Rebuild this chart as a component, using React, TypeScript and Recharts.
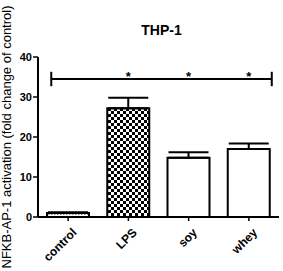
import React from "react";
import {
  BarChart,
  Bar,
  XAxis,
  YAxis,
  ErrorBar,
  Cell,
  ReferenceLine,
  ReferenceDot,
} from "recharts";

const groups = ["control", "LPS", "soy", "whey"];
const activation = [1, 27.2, 14.8, 17];
const errUp = [0.2, 2.6, 1.4, 1.4];
const yTicks = [0, 10, 20, 30, 40];

// significance bar (numeric x on a hidden 0..4 axis, y in data units)
const sigY = 34.5;
const sigFrom = 0.22;
const sigTo = 3.88;
const sigCap = 1.8;
const sigStars = ["LPS", "soy", "whey"];

const fills = ["url(#dots)", "url(#checker)", "#ffffff", "#ffffff"];

const data = groups.map((g, i) => ({ name: g, value: activation[i], err: [0, errUp[i]], pos: i + 0.5 }));

const font = "'Liberation Sans', Arial, sans-serif";

const XTick = (props: any) => {
  const { x, y, payload } = props;
  return (
    <text
      x={x + 3}
      y={y + 4}
      transform={`rotate(-45 ${x + 3} ${y + 4})`}
      textAnchor="end"
      dominantBaseline="hanging"
      fontSize={12}
      fontWeight="bold"
      fontFamily={font}
      fill="#000"
    >
      {payload.value}
    </text>
  );
};

const App: React.FC = () => {
  return (
    <div style={{ position: "absolute", left: 0, top: 0, width: 283, height: 271, background: "#fff", fontFamily: font }}>
      <svg width={0} height={0} style={{ position: "absolute" }}>
        <defs>
          <pattern id="checker" width={6} height={6} patternUnits="userSpaceOnUse">
            <rect width={6} height={6} fill="#fff" />
            <rect width={3} height={3} fill="#000" />
            <rect x={3} y={3} width={3} height={3} fill="#000" />
          </pattern>
          <pattern id="dots" width={3} height={3} patternUnits="userSpaceOnUse">
            <rect width={3} height={3} fill="#fff" />
            <rect width={1.5} height={1.5} fill="#000" />
          </pattern>
        </defs>
      </svg>
      <div
        style={{
          position: "absolute",
          left: 41,
          top: 22,
          width: 241,
          textAlign: "center",
          fontWeight: "bold",
          fontSize: 14,
        }}
      >
        THP-1
      </div>
      <BarChart
        width={283}
        height={271}
        data={data}
        margin={{ top: 57, right: 4, bottom: 0, left: 0 }}
        barCategoryGap={9}
      >
        <XAxis
          dataKey="name"
          height={54}
          axisLine={{ stroke: "#000", strokeWidth: 2 }}
          tickLine={{ stroke: "#000", strokeWidth: 1.5 }}
          tickSize={4}
          tick={<XTick />}
          interval={0}
        />
        <XAxis
          xAxisId="num"
          dataKey="pos"
          type="number"
          domain={[0, 4]}
          allowDataOverflow
          orientation="top"
          height={0}
          hide
        />
        <YAxis
          width={38}
          domain={[0, 40]}
          ticks={yTicks}
          axisLine={{ stroke: "#000", strokeWidth: 2 }}
          tickLine={{ stroke: "#000", strokeWidth: 1.5 }}
          tickSize={5}
          tickMargin={1}
          tick={{ fill: "#000", fontSize: 11, fontWeight: "bold", fontFamily: font }}
          label={{
            value: "NFKB-AP-1 activation (fold change of control)",
            angle: -90,
            position: "insideLeft",
            offset: 0,
            dx: 6,
            style: { textAnchor: "middle", fontSize: 13, fill: "#000", fontFamily: font },
          }}
        />
        <Bar dataKey="value" stroke="#000" strokeWidth={2} isAnimationActive={false}>
          {data.map((d, i) => (
            <Cell key={d.name} fill={fills[i]} />
          ))}
          <ErrorBar dataKey="err" direction="y" width={20} stroke="#000" strokeWidth={2} isAnimationActive={false} />
        </Bar>
        <ReferenceLine
          xAxisId="num"
          ifOverflow="visible"
          segment={[{ x: sigFrom, y: sigY }, { x: sigTo, y: sigY }]}
          stroke="#000"
          strokeWidth={2}
        />
        <ReferenceLine
          xAxisId="num"
          ifOverflow="visible"
          segment={[{ x: sigFrom, y: sigY - sigCap }, { x: sigFrom, y: sigY + sigCap }]}
          stroke="#000"
          strokeWidth={2}
        />
        <ReferenceLine
          xAxisId="num"
          ifOverflow="visible"
          segment={[{ x: sigTo, y: sigY - sigCap }, { x: sigTo, y: sigY + sigCap }]}
          stroke="#000"
          strokeWidth={2}
        />
        {sigStars.map((s) => (
          <ReferenceDot
            key={s}
            x={s}
            y={sigY}
            r={0}
            stroke="none"
            label={{ value: "*", position: "top", offset: -2, fill: "#000", fontSize: 13, fontWeight: "bold", fontFamily: font }}
          />
        ))}
      </BarChart>
    </div>
  );
};

export default App;
